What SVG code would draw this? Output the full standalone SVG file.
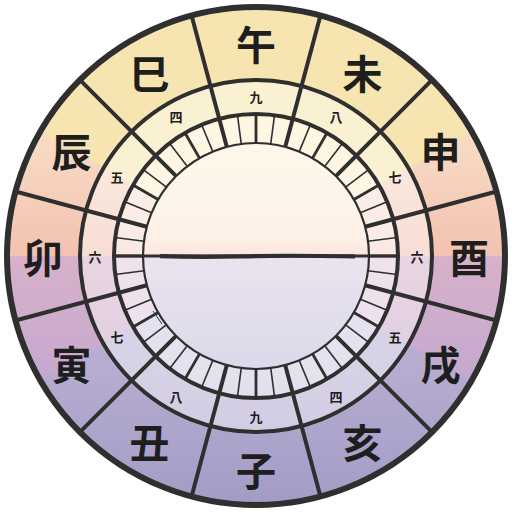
<svg xmlns="http://www.w3.org/2000/svg" width="512" height="512" viewBox="0 0 512 512">
<defs>
<clipPath id="disc"><circle cx="256" cy="256" r="249"/></clipPath>
<linearGradient id="peach" gradientUnits="userSpaceOnUse" x1="0" y1="130" x2="0" y2="256">
<stop offset="0" stop-color="#f9ddc6"/><stop offset="1" stop-color="#f3c2b1"/>
</linearGradient>
<linearGradient id="purple" gradientUnits="userSpaceOnUse" x1="0" y1="256" x2="0" y2="385">
<stop offset="0" stop-color="#d8b1ca"/><stop offset="1" stop-color="#c4a8cf"/>
</linearGradient>
<linearGradient id="blue" gradientUnits="userSpaceOnUse" x1="0" y1="360" x2="0" y2="505">
<stop offset="0" stop-color="#b8add1"/><stop offset="1" stop-color="#a29cc6"/>
</linearGradient>
<linearGradient id="center" gradientUnits="userSpaceOnUse" x1="0" y1="143" x2="0" y2="369">
<stop offset="0" stop-color="#fdf8ea"/>
<stop offset="0.4" stop-color="#fdf2e8"/>
<stop offset="0.498" stop-color="#fae6e0"/>
<stop offset="0.502" stop-color="#ebe3ef"/>
<stop offset="1" stop-color="#dbd9ea"/>
</linearGradient>
<line id="major" x1="256" y1="7" x2="256" y2="143"/>
<line id="tick" x1="256" y1="114" x2="256" y2="143"/>
</defs>
<style>
.ln{stroke:#2f2f2f;fill:none;stroke-linecap:butt}
.maj{stroke:#2f2f2f;stroke-width:4}
.tk{stroke:#2f2f2f;stroke-width:1.6}
.tkm{stroke:#2f2f2f;stroke-width:2.8}
.big{font-family:"Noto Sans CJK JP","Noto Sans CJK SC",sans-serif;font-size:40px;font-weight:bold;fill:#1e1e1e;text-anchor:middle;dominant-baseline:central}
.num{font-family:"Noto Sans CJK JP","Noto Sans CJK SC",sans-serif;font-size:13px;font-weight:bold;fill:#1e1e1e;text-anchor:middle;dominant-baseline:central}
</style>

<g id="background" clip-path="url(#disc)">
<rect x="0" y="0" width="512" height="256" fill="url(#peach)"/>
<polygon points="256,256 -90,56 -90,-200 602,-200 602,56" fill="#f6e5b0"/>
<rect x="0" y="256" width="512" height="256" fill="url(#purple)"/>
<polygon points="256,256 602,456 602,700 -90,700 -90,456" fill="url(#blue)"/>
<circle cx="256" cy="256" r="176" fill="#ffffff" fill-opacity="0.45"/>
<circle cx="256" cy="256" r="142" fill="#ffffff" fill-opacity="0.35"/>
<circle cx="256" cy="256" r="113" fill="url(#center)"/>
</g>

<g id="connectors">
<g id="ticks">
<use href="#tick" class="tkm" transform="rotate(0 256 256)"/>
<use href="#tick" class="tk" transform="rotate(7.5 256 256)"/>
<use href="#tick" class="tk" transform="rotate(22.5 256 256)"/>
<use href="#tick" class="tkm" transform="rotate(30 256 256)"/>
<use href="#tick" class="tk" transform="rotate(37.5 256 256)"/>
<use href="#tick" class="tk" transform="rotate(52.5 256 256)"/>
<use href="#tick" class="tkm" transform="rotate(60 256 256)"/>
<use href="#tick" class="tk" transform="rotate(67.5 256 256)"/>
<use href="#tick" class="tk" transform="rotate(82.5 256 256)"/>
<use href="#tick" class="tkm" transform="rotate(90 256 256)"/>
<use href="#tick" class="tk" transform="rotate(97.5 256 256)"/>
<use href="#tick" class="tk" transform="rotate(112.5 256 256)"/>
<use href="#tick" class="tkm" transform="rotate(120 256 256)"/>
<use href="#tick" class="tk" transform="rotate(127.5 256 256)"/>
<use href="#tick" class="tk" transform="rotate(142.5 256 256)"/>
<use href="#tick" class="tkm" transform="rotate(150 256 256)"/>
<use href="#tick" class="tk" transform="rotate(157.5 256 256)"/>
<use href="#tick" class="tk" transform="rotate(172.5 256 256)"/>
<use href="#tick" class="tkm" transform="rotate(180 256 256)"/>
<use href="#tick" class="tk" transform="rotate(187.5 256 256)"/>
<use href="#tick" class="tk" transform="rotate(202.5 256 256)"/>
<use href="#tick" class="tkm" transform="rotate(210 256 256)"/>
<use href="#tick" class="tk" transform="rotate(217.5 256 256)"/>
<use href="#tick" class="tk" transform="rotate(232.5 256 256)"/>
<use href="#tick" class="tkm" transform="rotate(240 256 256)"/>
<use href="#tick" class="tk" transform="rotate(247.5 256 256)"/>
<use href="#tick" class="tk" transform="rotate(262.5 256 256)"/>
<use href="#tick" class="tkm" transform="rotate(270 256 256)"/>
<use href="#tick" class="tk" transform="rotate(277.5 256 256)"/>
<use href="#tick" class="tk" transform="rotate(292.5 256 256)"/>
<use href="#tick" class="tkm" transform="rotate(300 256 256)"/>
<use href="#tick" class="tk" transform="rotate(307.5 256 256)"/>
<use href="#tick" class="tk" transform="rotate(322.5 256 256)"/>
<use href="#tick" class="tkm" transform="rotate(330 256 256)"/>
<use href="#tick" class="tk" transform="rotate(337.5 256 256)"/>
<use href="#tick" class="tk" transform="rotate(352.5 256 256)"/>
</g>
<g id="rings" class="ln">
<circle cx="256" cy="256" r="113" stroke-width="2.2"/>
<circle cx="256" cy="256" r="142" stroke-width="4"/>
<circle cx="256" cy="256" r="176" stroke-width="4"/>
</g>
<g id="radials">
<use href="#major" class="maj" transform="rotate(15 256 256)"/>
<use href="#major" class="maj" transform="rotate(45 256 256)"/>
<use href="#major" class="maj" transform="rotate(75 256 256)"/>
<use href="#major" class="maj" transform="rotate(105 256 256)"/>
<use href="#major" class="maj" transform="rotate(135 256 256)"/>
<use href="#major" class="maj" transform="rotate(165 256 256)"/>
<use href="#major" class="maj" transform="rotate(195 256 256)"/>
<use href="#major" class="maj" transform="rotate(225 256 256)"/>
<use href="#major" class="maj" transform="rotate(255 256 256)"/>
<use href="#major" class="maj" transform="rotate(285 256 256)"/>
<use href="#major" class="maj" transform="rotate(315 256 256)"/>
<use href="#major" class="maj" transform="rotate(345 256 256)"/>
</g>
<g id="horizon" class="ln">
<path d="M113,256 L399,256" stroke-width="2.8"/>
<path d="M160,256.2 Q200,257.4 240,256.4 T320,256 Q345,256.2 355,256.4" stroke-width="4.2"/>
<path d="M153,311 L162,324" stroke-width="1"/>
</g>
<circle cx="256" cy="256" r="249" class="ln" stroke-width="6"/>
</g>

<g id="branches">
<g id="n-wu"><text class="big" x="256" y="43">午</text></g>
<g id="n-wei"><text class="big" x="362.5" y="71.5">未</text></g>
<g id="n-shen"><text class="big" x="440.5" y="149.5">申</text></g>
<g id="n-you"><text class="big" x="469" y="256">酉</text></g>
<g id="n-xu"><text class="big" x="440.5" y="362.5">戌</text></g>
<g id="n-hai"><text class="big" x="362.5" y="440.5">亥</text></g>
<g id="n-zi"><text class="big" x="256" y="469">子</text></g>
<g id="n-chou"><text class="big" x="149.5" y="440.5">丑</text></g>
<g id="n-yin"><text class="big" x="71.5" y="362.5">寅</text></g>
<g id="n-mao"><text class="big" x="43" y="256">卯</text></g>
<g id="n-chen"><text class="big" x="71.5" y="149.5">辰</text></g>
<g id="n-si"><text class="big" x="149.5" y="71.5">巳</text></g>
</g>

<g id="hours">
<g id="h-0"><text class="num" x="256" y="96">九</text></g>
<g id="h-30"><text class="num" x="336" y="116">八</text></g>
<g id="h-60"><text class="num" x="395" y="176">七</text></g>
<g id="h-90"><text class="num" x="417" y="256">六</text></g>
<g id="h-120"><text class="num" x="395" y="336">五</text></g>
<g id="h-150"><text class="num" x="336" y="396">四</text></g>
<g id="h-180"><text class="num" x="256" y="416">九</text></g>
<g id="h-210"><text class="num" x="176" y="396">八</text></g>
<g id="h-240"><text class="num" x="117" y="336">七</text></g>
<g id="h-270"><text class="num" x="95" y="256">六</text></g>
<g id="h-300"><text class="num" x="117" y="176">五</text></g>
<g id="h-330"><text class="num" x="176" y="116">四</text></g>
</g>
</svg>
